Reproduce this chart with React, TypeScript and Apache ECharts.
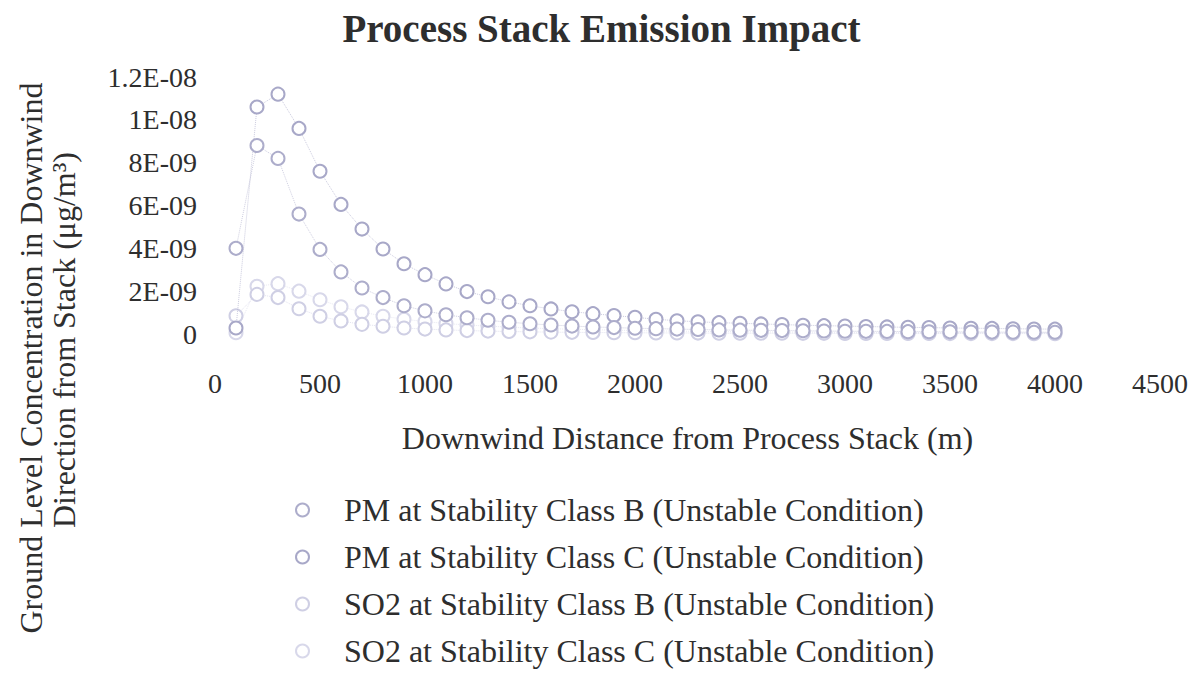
import React, { useEffect, useRef } from "react";
import * as echarts from "echarts";

const distances = [
  100, 200, 300, 400, 500, 600, 700, 800, 900, 1000,
  1100, 1200, 1300, 1400, 1500, 1600, 1700, 1800, 1900, 2000,
  2100, 2200, 2300, 2400, 2500, 2600, 2700, 2800, 2900, 3000,
  3100, 3200, 3300, 3400, 3500, 3600, 3700, 3800, 3900, 4000,
];

const pmClassB = [
  4.0e-9, 8.8e-9, 8.2e-9, 5.6e-9, 3.95e-9, 2.9e-9, 2.15e-9, 1.7e-9, 1.32e-9, 1.08e-9,
  0.9e-9, 0.76e-9, 0.64e-9, 0.55e-9, 0.48e-9, 0.42e-9, 0.37e-9, 0.33e-9, 0.3e-9, 0.27e-9,
  0.25e-9, 0.23e-9, 0.21e-9, 0.19e-9, 0.18e-9, 0.17e-9, 0.16e-9, 0.15e-9, 0.14e-9, 0.13e-9,
  0.125e-9, 0.12e-9, 0.11e-9, 0.105e-9, 0.1e-9, 0.095e-9, 0.09e-9, 0.087e-9, 0.083e-9, 0.08e-9,
];

const pmClassC = [
  0.28e-9, 10.6e-9, 11.2e-9, 9.6e-9, 7.6e-9, 6.05e-9, 4.9e-9, 3.97e-9, 3.28e-9, 2.77e-9,
  2.34e-9, 1.98e-9, 1.74e-9, 1.5e-9, 1.32e-9, 1.17e-9, 1.04e-9, 0.95e-9, 0.86e-9, 0.78e-9,
  0.69e-9, 0.62e-9, 0.57e-9, 0.53e-9, 0.5e-9, 0.47e-9, 0.44e-9, 0.41e-9, 0.39e-9, 0.37e-9,
  0.35e-9, 0.33e-9, 0.31e-9, 0.3e-9, 0.28e-9, 0.27e-9, 0.26e-9, 0.245e-9, 0.235e-9, 0.225e-9,
];

const so2ClassB = [
  0.85e-9, 1.85e-9, 1.7e-9, 1.18e-9, 0.83e-9, 0.61e-9, 0.45e-9, 0.36e-9, 0.28e-9, 0.23e-9,
  0.19e-9, 0.16e-9, 0.135e-9, 0.115e-9, 0.1e-9, 0.088e-9, 0.078e-9, 0.07e-9, 0.063e-9, 0.057e-9,
  0.052e-9, 0.048e-9, 0.044e-9, 0.04e-9, 0.038e-9, 0.036e-9, 0.034e-9, 0.032e-9, 0.03e-9, 0.028e-9,
  0.026e-9, 0.025e-9, 0.023e-9, 0.022e-9, 0.021e-9, 0.02e-9, 0.019e-9, 0.018e-9, 0.017e-9, 0.017e-9,
];

const so2ClassC = [
  0.06e-9, 2.23e-9, 2.35e-9, 2.0e-9, 1.6e-9, 1.27e-9, 1.03e-9, 0.83e-9, 0.69e-9, 0.58e-9,
  0.49e-9, 0.42e-9, 0.37e-9, 0.32e-9, 0.28e-9, 0.25e-9, 0.22e-9, 0.2e-9, 0.18e-9, 0.16e-9,
  0.145e-9, 0.133e-9, 0.123e-9, 0.115e-9, 0.107e-9, 0.1e-9, 0.094e-9, 0.088e-9, 0.082e-9, 0.077e-9,
  0.073e-9, 0.069e-9, 0.066e-9, 0.063e-9, 0.06e-9, 0.057e-9, 0.054e-9, 0.052e-9, 0.05e-9, 0.047e-9,
];

const seriesNames = [
  "PM at Stability Class B (Unstable Condition)",
  "PM at Stability Class C (Unstable Condition)",
  "SO2 at Stability Class B (Unstable Condition)",
  "SO2 at Stability Class C (Unstable Condition)",
];

const seriesColors = ["#adadcb", "#a8a8c8", "#cfcfe4", "#d8d8ea"];

const FONT = "'Liberation Serif', 'Times New Roman', serif";
const TEXT = "#2e2e2e";

function fmtSci(v: number): string {
  if (Math.abs(v) < 1e-20) return "0";
  const e = Math.floor(Math.log10(v) + 1e-9);
  const m = Math.round((v / Math.pow(10, e)) * 10) / 10;
  const ms = Number.isInteger(m) ? String(m) : m.toFixed(1);
  const es = (e < 0 ? "-" : "+") + String(Math.abs(e)).padStart(2, "0");
  return ms + "E" + es;
}

export default function App() {
  const ref = useRef<HTMLDivElement>(null);

  useEffect(() => {
    document.body.style.margin = "0";
    if (!ref.current) return;
    const chart = echarts.init(ref.current, undefined, { renderer: "svg" });
    const allData = [pmClassB, pmClassC, so2ClassB, so2ClassC];

    chart.setOption({
      animation: false,
      backgroundColor: "#ffffff",
      title: {
        text: "Process Stack Emission Impact",
        left: "center",
        top: 4,
        textStyle: { fontFamily: FONT, fontSize: 39, fontWeight: "bold", color: TEXT },
      },
      grid: { left: 215, right: 43, top: 77, bottom: 352, containLabel: false },
      xAxis: {
        type: "value",
        min: 0,
        max: 4500,
        interval: 500,
        axisLine: { show: false },
        axisTick: { show: false },
        splitLine: { show: false },
        axisLabel: {
          fontFamily: FONT,
          fontSize: 28,
          color: TEXT,
          margin: 35,
          formatter: (v: number) => String(v),
        },
        name: "Downwind Distance from Process Stack (m)",
        nameLocation: "middle",
        nameGap: 88,
        nameTextStyle: { fontFamily: FONT, fontSize: 32, color: TEXT },
      },
      yAxis: {
        type: "value",
        min: 0,
        max: 1.2e-8,
        interval: 2e-9,
        axisLine: { show: false },
        axisTick: { show: false },
        splitLine: { show: false },
        axisLabel: {
          fontFamily: FONT,
          fontSize: 28,
          color: TEXT,
          margin: 18,
          formatter: (v: number) => fmtSci(v),
        },
      },
      legend: {
        orient: "vertical",
        left: 295,
        top: 494,
        padding: 0,
        itemWidth: 13,
        itemHeight: 13,
        itemGap: 15,
        icon: "emptyCircle",
        data: seriesNames,
        textStyle: {
          fontFamily: FONT,
          fontSize: 32,
          color: TEXT,
          lineHeight: 32,
          padding: [0, 0, 0, 30],
        },
      },
      graphic: [
        {
          type: "text",
          x: 31,
          y: 358,
          rotation: Math.PI / 2,
          style: {
            text: "Ground Level Concentration in Downwind",
            fontFamily: FONT,
            fontSize: 32,
            fill: TEXT,
            align: "center",
            verticalAlign: "middle",
          },
        },
        {
          type: "text",
          x: 64,
          y: 340,
          rotation: Math.PI / 2,
          style: {
            text: "Direction from Stack (μg/m³)",
            fontFamily: FONT,
            fontSize: 32,
            fill: TEXT,
            align: "center",
            verticalAlign: "middle",
          },
        },
      ],
      series: allData.map((arr, i) => ({
        name: seriesNames[i],
        type: "line",
        data: distances.map((d, j) => [d, arr[j]]),
        symbol: "emptyCircle",
        symbolSize: 13,
        showSymbol: true,
        itemStyle: { color: seriesColors[i], borderColor: seriesColors[i], borderWidth: 1.6 },
        lineStyle: { type: "dotted", width: 1, color: seriesColors[i], opacity: 0.6 },
        z: 10 - i,
      })),
    });

    return () => chart.dispose();
  }, []);

  return <div ref={ref} style={{ width: 1203, height: 686 }} />;
}
